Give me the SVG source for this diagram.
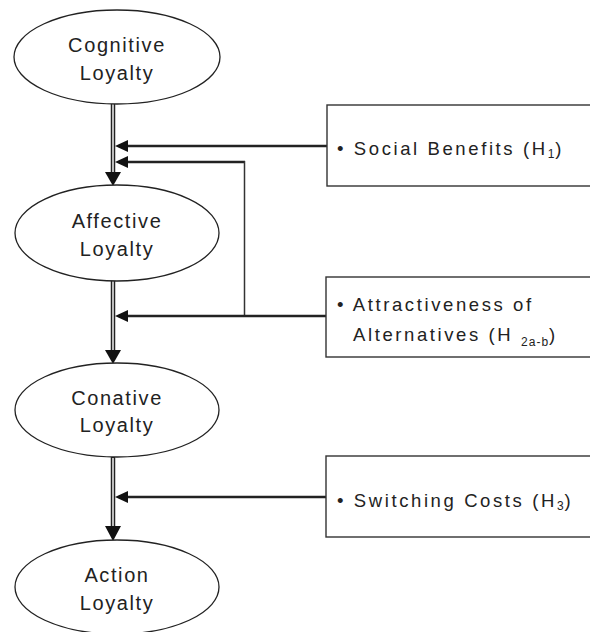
<svg xmlns="http://www.w3.org/2000/svg" width="590" height="632" viewBox="0 0 590 632">
<style>
.node ellipse{fill:#fff;stroke:#222;stroke-width:1.3}
.node rect{fill:#fff;stroke:#333;stroke-width:1.4}
.lbl{font-family:"Liberation Sans",Arial,sans-serif;font-size:20px;fill:#222;letter-spacing:1.6px;text-anchor:middle}
.box{font-family:"Liberation Sans",Arial,sans-serif;font-size:18.5px;fill:#222;letter-spacing:2.6px}
.sub{font-size:12px;letter-spacing:1px}
.dbl{stroke:#222;stroke-width:4.5;fill:none}
.dblin{stroke:#fff;stroke-width:1.4;fill:none}
.ln{stroke:#222;stroke-width:2.4;fill:none}
.thin{stroke:#333;stroke-width:1.5;fill:none}
.ah{fill:#111}
</style>
<rect width="590" height="632" fill="#fff"/>
<g id="connectors">
  <line class="dbl" x1="113" y1="103" x2="113" y2="174"/>
  <line class="dblin" x1="113" y1="104" x2="113" y2="174"/>
  <polygon class="ah" points="105,172 121,172 113,186"/>
  <line class="dbl" x1="113" y1="280" x2="113" y2="352"/>
  <line class="dblin" x1="113" y1="281" x2="113" y2="352"/>
  <polygon class="ah" points="105,350 121,350 113,364"/>
  <line class="dbl" x1="113" y1="457" x2="113" y2="528"/>
  <line class="dblin" x1="113" y1="458" x2="113" y2="528"/>
  <polygon class="ah" points="105,526 121,526 113,541"/>

  <line class="ln" x1="126" y1="146" x2="327" y2="146"/>
  <polygon class="ah" points="115,146 128,140 128,152"/>
  <line class="ln" x1="126" y1="162" x2="245" y2="162"/>
  <line class="thin" x1="244.5" y1="161" x2="244.5" y2="316"/>
  <polygon class="ah" points="115,162 128,156 128,168"/>
  <line class="ln" x1="126" y1="316" x2="326" y2="316"/>
  <polygon class="ah" points="115,316 128,310 128,322"/>
  <line class="ln" x1="126" y1="497" x2="326" y2="497"/>
  <polygon class="ah" points="115,497 128,491 128,503"/>
</g>
<g id="cognitive" class="node">
  <ellipse cx="117" cy="57" rx="103" ry="47"/>
  <text class="lbl" x="117" y="52">Cognitive</text>
  <text class="lbl" x="117" y="80">Loyalty</text>
</g>
<g id="affective" class="node">
  <ellipse cx="117" cy="233" rx="102" ry="48"/>
  <text class="lbl" x="117" y="228">Affective</text>
  <text class="lbl" x="117" y="256">Loyalty</text>
</g>
<g id="conative" class="node">
  <ellipse cx="117" cy="410" rx="102" ry="47"/>
  <text class="lbl" x="117" y="405">Conative</text>
  <text class="lbl" x="117" y="432">Loyalty</text>
</g>
<g id="action" class="node">
  <ellipse cx="117" cy="587" rx="102" ry="47"/>
  <text class="lbl" x="117" y="582">Action</text>
  <text class="lbl" x="117" y="610">Loyalty</text>
</g>
<g id="social" class="node">
  <rect x="327" y="105" width="265" height="81"/>
  <text class="box" x="337" y="155">• Social Benefits  (H<tspan class="sub" dy="3">1</tspan><tspan dy="-3">)</tspan></text>
</g>
<g id="attractiveness" class="node">
  <rect x="326" y="277" width="266" height="80"/>
  <text class="box" x="337" y="311">• Attractiveness  of</text>
  <text class="box" x="353" y="341">Alternatives (H <tspan class="sub" dy="5">2a-b</tspan><tspan dy="-5">)</tspan></text>
</g>
<g id="switching" class="node">
  <rect x="326" y="456" width="266" height="81"/>
  <text class="box" x="337" y="507">• Switching  Costs (H<tspan class="sub" dy="3">3</tspan><tspan dy="-3">)</tspan></text>
</g>
</svg>
